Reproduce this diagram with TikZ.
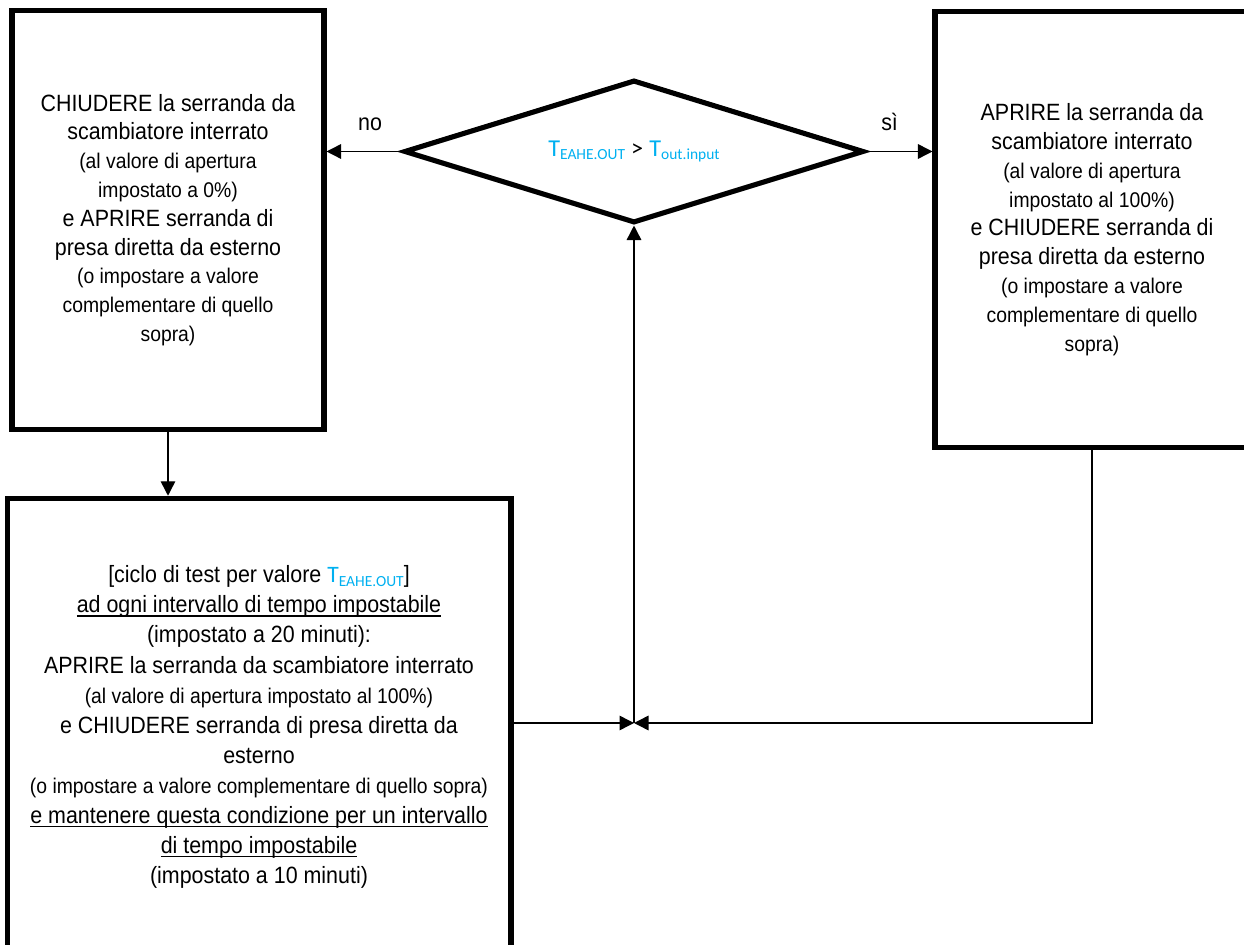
\documentclass[tikz,border=0pt]{standalone}
\usepackage{fontspec}
\setmainfont{Liberation Sans}[FakeStretch=0.91]
\newfontfamily\calib{Carlito}
\usetikzlibrary{shapes.geometric,arrows.meta}
\definecolor{tblue}{HTML}{00B0F0}
\newcommand{\testo}{\fontsize{13.4}{16.4}\selectfont}
\newcommand{\nota}{\fontsize{12.1}{16.4}\selectfont}
\newcommand{\Tsens}[1]{{\calib\color{tblue}T\raisebox{-2pt}{\fontsize{8.8}{10}\selectfont #1}}}
\newcommand{\sotto}[1]{\setbox0\hbox{#1}\rlap{\vrule height -1.4pt depth 2.2pt width \wd0}\box0}

\begin{document}
\begin{tikzpicture}[x=0.02cm,y=-0.02cm,
  blocco/.style={draw,line width=2.9pt,align=center,inner sep=0pt},
  freccia/.style={line width=0.85pt,-{Triangle[length=0.29cm,width=0.29cm]}}]
  \useasboundingbox (0,0) rectangle (1244,945);

  \node[blocco,minimum width=6.24cm,minimum height=8.38cm,font=\testo] (chiudi) at (168,220)
    {CHIUDERE la serranda da\\ scambiatore interrato\\ \nota(al valore di apertura\\ \nota impostato a 0\%)\\
     e APRIRE serranda di\\ presa diretta da esterno\\ \nota(o impostare a valore\\ \nota complementare di quello\\ \nota sopra)};
  \node[blocco,minimum width=6.28cm,minimum height=8.72cm,font=\testo] (apri) at (1092,229.5)
    {APRIRE la serranda da\\ scambiatore interrato\\ \nota(al valore di apertura\\ \nota impostato al 100\%)\\
     e CHIUDERE serranda di\\ presa diretta da esterno\\ \nota(o impostare a valore\\ \nota complementare di quello\\ \nota sopra)};
  \node[blocco,minimum width=10.08cm,minimum height=9.15cm,font=\fontsize{13.4}{17.1}\selectfont] (ciclo) at (259,727)
    {[ciclo di test per valore \Tsens{EAHE.OUT}]\\ \sotto{ad ogni intervallo di tempo impostabile}\\
     (impostato a 20 minuti):\\ APRIRE la serranda da scambiatore interrato\\ \nota(al valore di apertura impostato al 100\%)\\
     e CHIUDERE serranda di presa diretta da\\ esterno\\ \nota(o impostare a valore complementare di quello sopra)\\
     \sotto{e mantenere questa condizione per un intervallo}\\ \sotto{di tempo impostabile}\\ (impostato a 10 minuti)};
  \node[draw,diamond,aspect=3.2,line width=2.9pt,inner sep=0pt,minimum width=9.2cm,minimum height=2.86cm,font=\fontsize{13.8}{16}\selectfont] (test) at (634,151.5)
    {\raisebox{-3pt}{\Tsens{EAHE.OUT} {\calib >} \Tsens{out.input}}};

  \coordinate (nodo) at (634,723);
  \draw[freccia] (test.west) -- node[above=8pt,pos=0.42,font=\testo] (no) {no} (test.west -| chiudi.east);
  \draw[freccia] (test.east) -- node[above=8pt,pos=0.35,font=\testo] (si) {sì} (test.east -| apri.west);
  \draw[freccia] (chiudi.south) -- (chiudi.south |- ciclo.north);
  \draw[freccia] (ciclo.east |- nodo) -- (nodo);
  \draw[freccia] (apri.south) |- (nodo);
  \draw[freccia] (nodo) -- (test.south);
\end{tikzpicture}
\end{document}
